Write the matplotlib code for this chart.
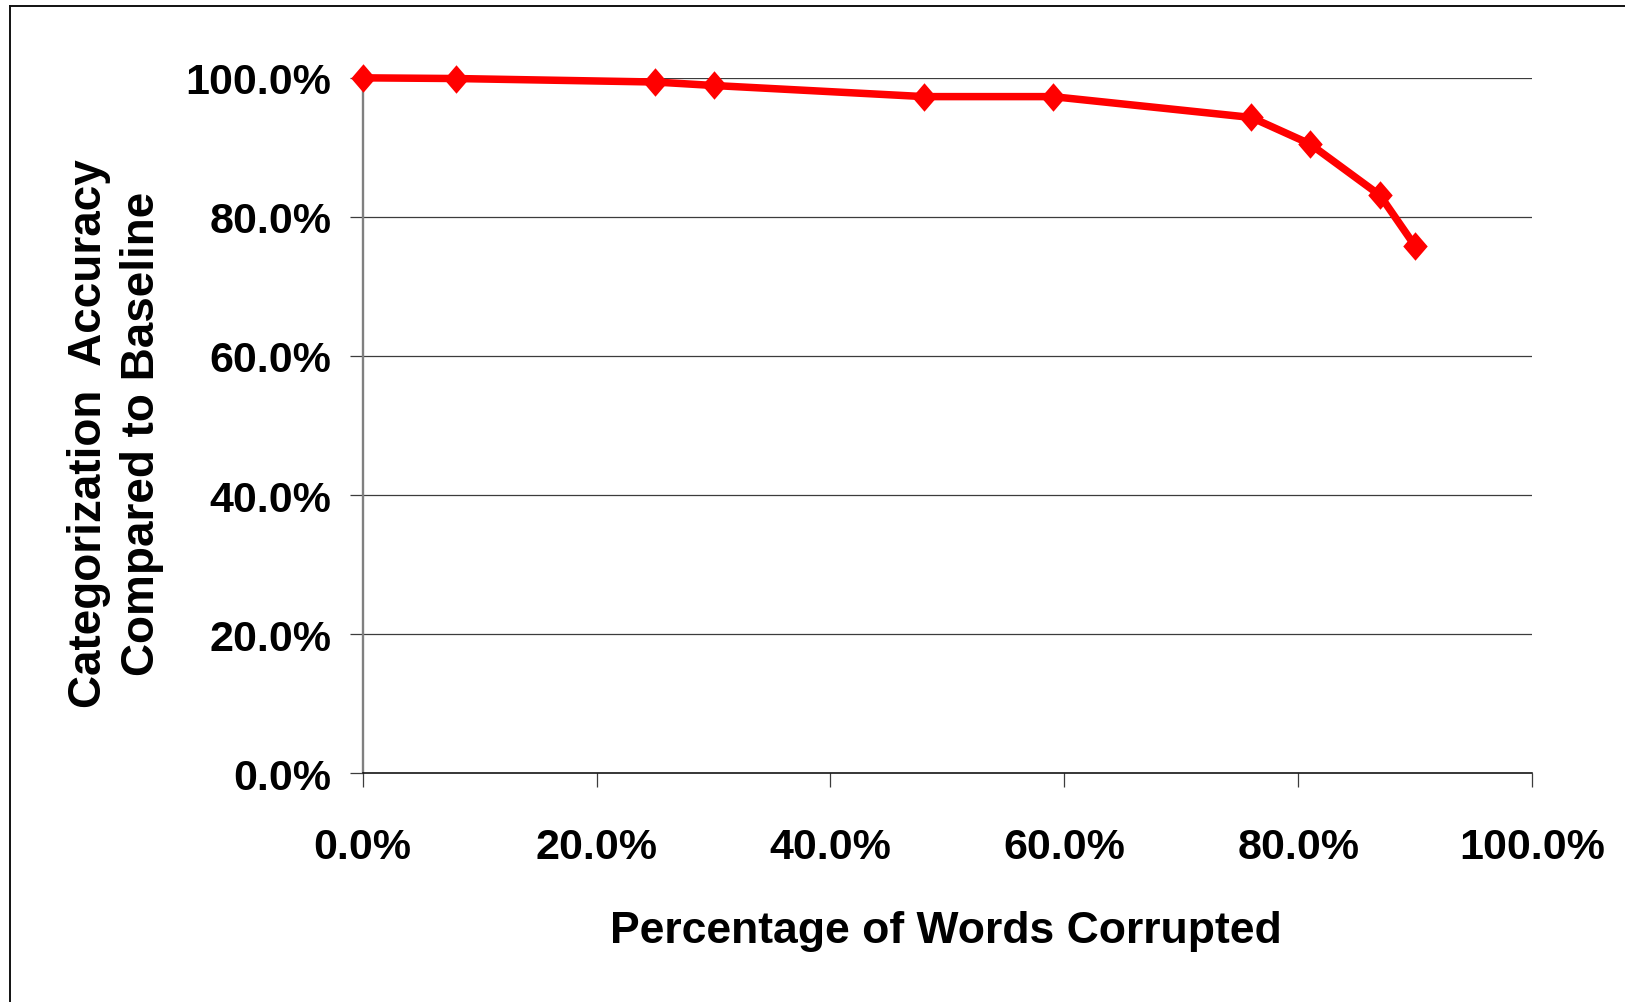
import matplotlib
matplotlib.use("Agg")
import matplotlib.pyplot as plt
from matplotlib.lines import Line2D
from matplotlib.path import Path
from matplotlib.ticker import FuncFormatter

# Share of words corrupted vs. categorization accuracy relative to baseline (%)
corrupted_pct = [0, 8, 25, 30, 48, 59, 76, 81, 87, 90]
accuracy_pct = [100.0, 99.9, 99.4, 98.9, 97.3, 97.3, 94.3, 90.5, 83.1, 75.8]

x_ticks = [0, 20, 40, 60, 80, 100]
y_ticks = [0, 20, 40, 60, 80, 100]

plt.rcParams["font.family"] = ["Liberation Sans", "DejaVu Sans"]
plt.rcParams["font.weight"] = "bold"

DPI = 100
fig = plt.figure(figsize=(16.25, 10.03), dpi=DPI)
fig.patch.set_facecolor("white")

ax = fig.add_axes([0.2232, 0.2281, 0.9428 - 0.2232, 0.9214 - 0.2281])
ax.set_xlim(0, 100)
ax.set_ylim(0, 100)

# horizontal gridlines
for v in y_ticks[1:]:
    ax.axhline(v, color="#3c3c3c", lw=0.9, zorder=1)

# diamond marker, slightly taller than wide
diamond = Path([(0, 1), (0.86, 0), (0, -1), (-0.86, 0), (0, 1)],
               [Path.MOVETO, Path.LINETO, Path.LINETO, Path.LINETO, Path.CLOSEPOLY])

ax.plot(corrupted_pct, accuracy_pct, color="#ff0000", lw=5.4,
        marker=diamond, markersize=20.5, markeredgewidth=0,
        markerfacecolor="#ff0000", clip_on=False, zorder=5,
        solid_joinstyle="round")

for side in ("top", "right"):
    ax.spines[side].set_visible(False)
ax.spines["left"].set_color("#808080")
ax.spines["left"].set_linewidth(1.7)
ax.spines["bottom"].set_color("#000000")
ax.spines["bottom"].set_linewidth(1.1)

ax.set_xticks(x_ticks)
ax.set_yticks(y_ticks)
pct = FuncFormatter(lambda v, _: f"{v:.1f}%")
ax.xaxis.set_major_formatter(pct)
ax.yaxis.set_major_formatter(pct)

ax.tick_params(axis="y", direction="out", length=9.4, width=0.9,
               color="#3c3c3c", pad=13, labelsize=31)
ax.tick_params(axis="x", direction="out", length=10, width=0.9,
               color="#3c3c3c", pad=29, labelsize=31)
for lab in ax.get_xticklabels() + ax.get_yticklabels():
    lab.set_fontweight("bold")

ax.set_xlabel("Percentage of Words Corrupted", fontsize=32,
              fontweight="bold", va="baseline")
ax.xaxis.set_label_coords(0.4984, -0.2427)

ax.set_ylabel("Categorization  Accuracy\nCompared to Baseline", fontsize=33,
              fontweight="bold", linespacing=1.27, va="center", ha="center")
ax.yaxis.set_label_coords(-0.2114, 0.4892)

# outer chart frame (left and top edges)
W, H = 1625, 1003
fig.add_artist(Line2D([10 / W, 10 / W], [0, 1 - 7 / H], transform=fig.transFigure,
                      color="#111111", lw=1.4))
fig.add_artist(Line2D([10 / W, 1], [1 - 7 / H, 1 - 7 / H], transform=fig.transFigure,
                      color="#111111", lw=1.4))

fig.savefig("out.png", dpi=DPI, facecolor="white")
